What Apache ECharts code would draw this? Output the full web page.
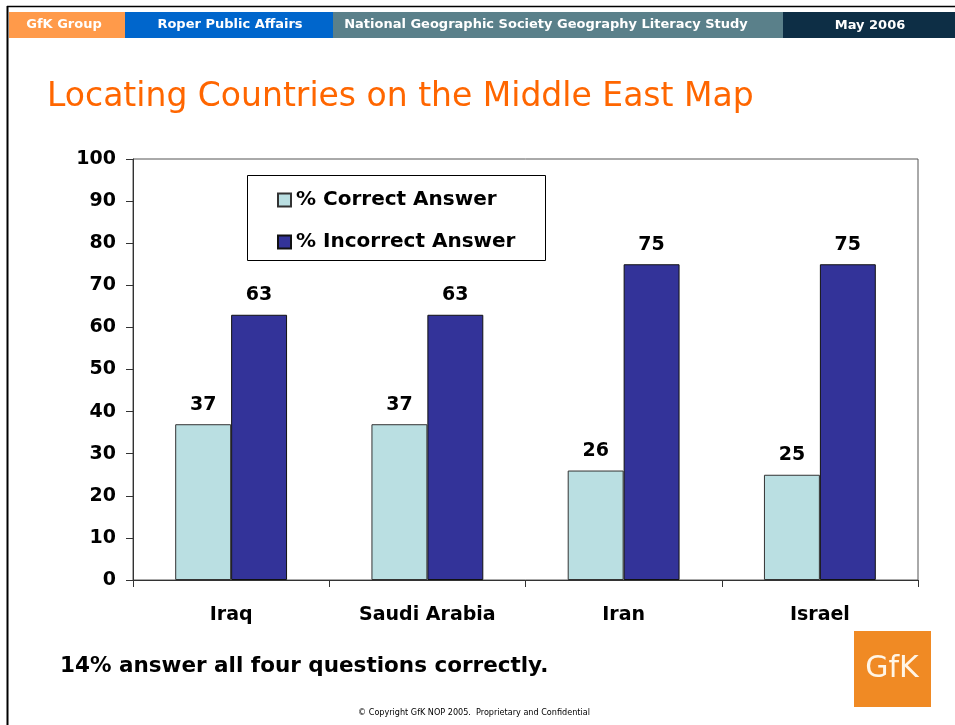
<!DOCTYPE html>
<html>
<head>
<meta charset="utf-8">
<script src="https://cdn.jsdelivr.net/npm/echarts@6/dist/echarts.min.js"></script>
<style>html,body{margin:0;padding:0;background:#fff;}#c{width:955px;height:725px;}</style>
</head>
<body>
<div id="c"></div>
<script>
const categories = ['Iraq', 'Saudi Arabia', 'Iran', 'Israel'];
const correct = [37, 37, 26, 25];
const incorrect = [63, 63, 75, 75];
const seriesNames = ['% Correct Answer', '% Incorrect Answer'];
const yTicks = {min: 0, max: 100, interval: 10};

const F = '"DejaVu Sans", Verdana, sans-serif';
const chart = echarts.init(document.getElementById('c'), null, {renderer: 'canvas'});
const lbl = {show: true, position: 'top', distance: 10, fontFamily: F, fontWeight: 'bold', fontSize: 19, color: '#000'};
chart.setOption({
  animation: false,
  backgroundColor: '#fff',
  grid: {left: 133, right: 37, top: 159, bottom: 145, containLabel: false, show: true, borderColor: '#555', borderWidth: 1},
  legend: {
    data: seriesNames, orient: 'vertical', left: 272, top: 185, itemGap: 22,
    itemWidth: 13, itemHeight: 13, icon: 'rect',
    textStyle: {fontFamily: F, fontWeight: 'bold', fontSize: 20, color: '#000'}
  },
  xAxis: {
    type: 'category', data: categories,
    axisLine: {lineStyle: {color: '#333'}},
    axisTick: {show: true, length: 7, lineStyle: {color: '#333'}},
    axisLabel: {fontFamily: F, fontWeight: 'bold', fontSize: 19, color: '#000', margin: 26}
  },
  yAxis: {
    type: 'value', min: yTicks.min, max: yTicks.max, interval: yTicks.interval,
    axisLine: {show: true, lineStyle: {color: '#333'}},
    axisTick: {show: true, length: 7, inside: false, lineStyle: {color: '#333'}},
    splitLine: {show: false},
    axisLabel: {fontFamily: F, fontWeight: 'bold', fontSize: 19, color: '#000', margin: 17}
  },
  series: [
    {name: seriesNames[0], type: 'bar', data: correct, barGap: '0%', barCategoryGap: '43%',
     itemStyle: {color: '#BADFE2', borderColor: '#333', borderWidth: 1}, label: lbl},
    {name: seriesNames[1], type: 'bar', data: incorrect, barGap: '0%', barCategoryGap: '43%',
     itemStyle: {color: '#333399', borderColor: '#111', borderWidth: 1}, label: lbl}
  ],
  graphic: [
    {type: 'line', shape: {x1: 7.5, y1: 6, x2: 7.5, y2: 725}, style: {stroke: '#000', lineWidth: 2}},
    {type: 'line', shape: {x1: 7, y1: 6.5, x2: 955, y2: 6.5}, style: {stroke: '#000', lineWidth: 1.5}},
    {type: 'rect', shape: {x: 9, y: 12, width: 116, height: 26}, style: {fill: '#FF9A4A'}},
    {type: 'rect', shape: {x: 125, y: 12, width: 208, height: 26}, style: {fill: '#0066CC'}},
    {type: 'rect', shape: {x: 333, y: 12, width: 450, height: 26}, style: {fill: '#5A808A'}},
    {type: 'rect', shape: {x: 783, y: 12, width: 172, height: 26}, style: {fill: '#0D2E45'}},
    {type: 'text', x: 64, y: 25, style: {text: 'GfK Group', fill: '#fff', font: 'bold 13px "DejaVu Sans", sans-serif', textAlign: 'center', textVerticalAlign: 'middle'}},
    {type: 'text', x: 230, y: 25, style: {text: 'Roper Public Affairs', fill: '#fff', font: 'bold 13px "DejaVu Sans", sans-serif', textAlign: 'center', textVerticalAlign: 'middle'}},
    {type: 'text', x: 546, y: 25, style: {text: 'National Geographic Society Geography Literacy Study', fill: '#fff', font: 'bold 13px "DejaVu Sans", sans-serif', textAlign: 'center', textVerticalAlign: 'middle'}},
    {type: 'text', x: 870, y: 26, style: {text: 'May 2006', fill: '#fff', font: 'bold 13px "DejaVu Sans", sans-serif', textAlign: 'center', textVerticalAlign: 'middle'}},
    {type: 'text', x: 47, y: 97, style: {text: 'Locating Countries on the Middle East Map', fill: '#FF6600', font: '33px "DejaVu Sans", sans-serif', textVerticalAlign: 'middle'}},
    {type: 'rect', shape: {x: 247.5, y: 175.5, width: 298, height: 85}, style: {fill: 'none', stroke: '#000', lineWidth: 1}, z: -1},
    {type: 'text', x: 60, y: 666, style: {text: '14% answer all four questions correctly.', fill: '#000', font: 'bold 21.5px "DejaVu Sans", sans-serif', textVerticalAlign: 'middle'}},
    {type: 'text', x: 474, y: 713, style: {text: '\u00A9 Copyright GfK NOP 2005.  Proprietary and Confidential', fill: '#000', font: '9px "DejaVu Sans Condensed", sans-serif', textAlign: 'center', textVerticalAlign: 'middle'}},
    {type: 'rect', shape: {x: 854, y: 631, width: 77, height: 76}, style: {fill: '#F08A24'}},
    {type: 'text', x: 892, y: 669, style: {text: 'GfK', fill: '#FFF5E6', font: '30px "DejaVu Sans", sans-serif', textAlign: 'center', textVerticalAlign: 'middle'}}
  ]
});
</script>
</body>
</html>
